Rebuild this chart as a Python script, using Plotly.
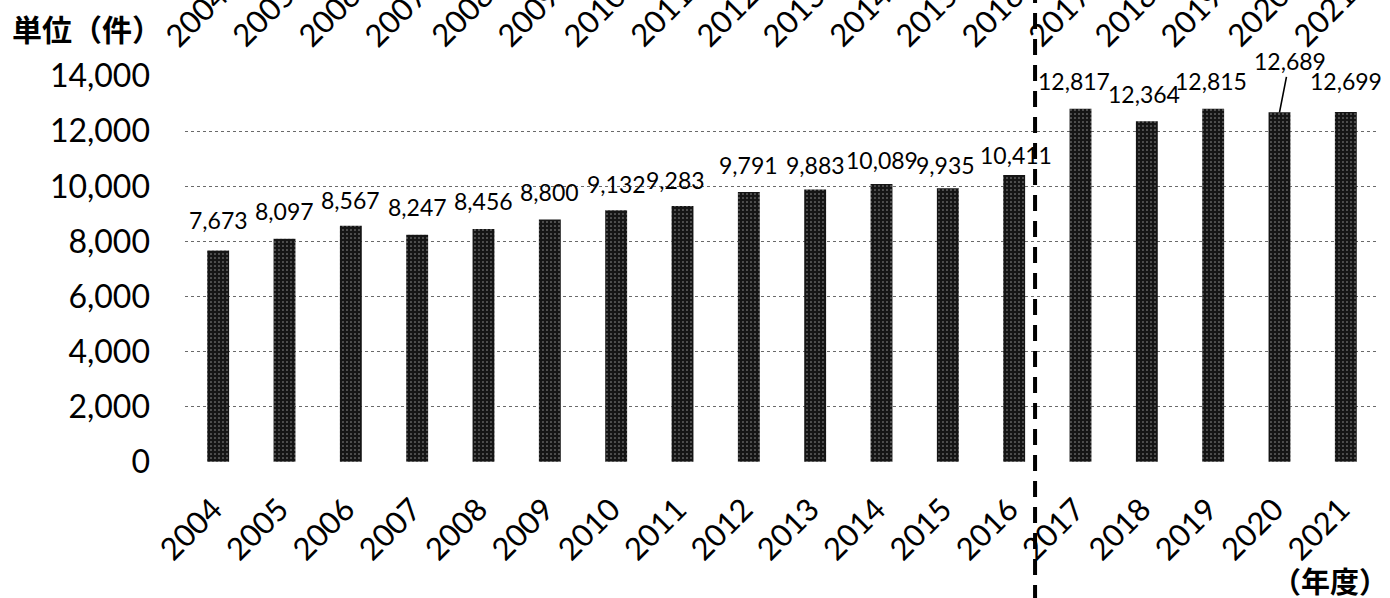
import plotly.graph_objects as go

years = ["2004", "2005", "2006", "2007", "2008", "2009", "2010", "2011", "2012",
         "2013", "2014", "2015", "2016", "2017", "2018", "2019", "2020", "2021"]
counts = [7673, 8097, 8567, 8247, 8456, 8800, 9132, 9283, 9791,
          9883, 10089, 9935, 10411, 12817, 12364, 12815, 12689, 12699]
y_ticks = [0, 2000, 4000, 6000, 8000, 10000, 12000, 14000]
y_unit = "単位（件）"
x_unit = "（年度）"

# label offsets (pixels) for the value labels: (xshift, yshift of label centre above bar top)
label_offsets = [(0, 28), (0, 26), (0, 24), (0, 26), (0, 26), (0, 25), (0, 24), (-7, 24), (0, 25),
                 (0, 23), (0, 22), (-2, 21), (2, 18), (-7, 26), (-3, 25), (-2, 26), None, (0, 29)]

FONT = "Lato, 'Open Sans', sans-serif"
CJK = "'Noto Sans CJK JP', sans-serif"

fig = go.Figure()
fig.add_trace(go.Bar(
    x=years, y=counts, width=0.33,
    marker=dict(color="#151515", line=dict(width=0),
                pattern=dict(shape=".", fgcolor="#9a9a9a", bgcolor="#151515",
                             size=4, solidity=0.12, fillmode="replace")),
    hoverinfo="x+y",
))

fmt = lambda v: f"{v:,}"
for i, v in enumerate(counts):
    off = label_offsets[i]
    if off is None:
        fig.add_annotation(x=i, y=v, text=fmt(v), showarrow=True, arrowhead=0,
                           arrowwidth=1.6, arrowcolor="#000", ax=10, ay=-51,
                           font=dict(family=FONT, size=23, color="#000"))
    else:
        fig.add_annotation(x=i, y=v, text=fmt(v), showarrow=False,
                           xanchor="center", yanchor="middle",
                           xshift=off[0], yshift=off[1] + 2,
                           font=dict(family=FONT, size=23, color="#000"))

# repeated (cut-off) year labels along the top edge
for i, yr in enumerate(years):
    fig.add_annotation(x=i, y=1.158, yref="paper", text=yr, textangle=-45,
                       showarrow=False, xanchor="center", yanchor="middle",
                       xshift=-22, font=dict(family=FONT, size=31, color="#000"))

fig.add_annotation(x=0, xref="paper", xshift=-175, y=1.125, yref="paper", text=y_unit,
                   showarrow=False, xanchor="left", yanchor="middle",
                   font=dict(family=CJK, size=30, color="#000", weight="bold"))
fig.add_annotation(x=1, xref="paper", xshift=11, y=-0.305, yref="paper", text=x_unit,
                   showarrow=False, xanchor="right", yanchor="middle",
                   font=dict(family=CJK, size=29, color="#000", weight="bold"))

# dashed divider between 2016 and 2017
fig.add_shape(type="line", xref="x", yref="paper", x0=12.315, x1=12.315, y0=-0.36, y1=1.2,
              line=dict(color="#000", width=4, dash="16px,10px"))

fig.update_layout(
    width=1390, height=598,
    margin=dict(l=185, r=11, t=76, b=136),
    paper_bgcolor="white", plot_bgcolor="white",
    showlegend=False,
    font=dict(family=FONT, color="#000"),
    xaxis=dict(type="category", range=[-0.5, 17.5], tickangle=-45,
               tickfont=dict(family=FONT, size=31, color="#000"),
               showgrid=False, showline=False, zeroline=False, ticks="",
               ticklabelstandoff=22, ticklabelshift=-5),
    yaxis=dict(range=[-6, 14006], tickvals=y_ticks, tickformat=",",
               tickfont=dict(family=FONT, size=32, color="#000"),
               showgrid=True, gridcolor="#6a6a6a", griddash="dot", gridwidth=1,
               zeroline=False, showline=False, ticks="", ticklabelstandoff=34),
)

fig.write_html("out.html", config={"displayModeBar": False},
               post_script="document.body.style.margin='0';")
